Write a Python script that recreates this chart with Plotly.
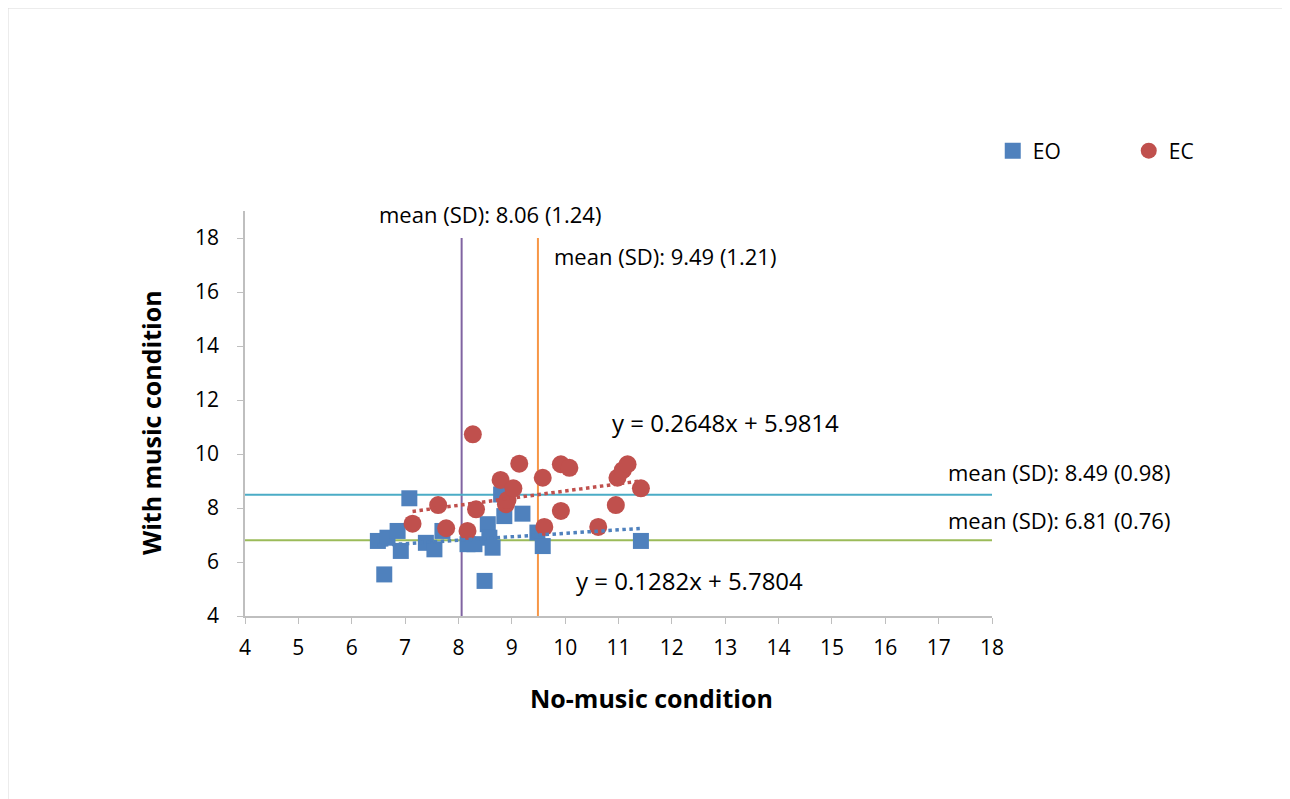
import plotly.graph_objects as go

# ---- data ----
eo_x = [6.49, 6.67, 6.86, 6.92, 6.61, 7.08, 7.39, 7.55, 7.70, 8.17, 8.30,
        8.55, 8.58, 8.64, 8.49, 8.86, 8.80, 9.20, 9.48, 9.58, 11.42]
eo_y = [6.78, 6.90, 7.15, 6.41, 5.54, 8.36, 6.71, 6.47, 7.15, 6.66, 6.66,
        7.40, 6.90, 6.53, 5.30, 7.70, 8.50, 7.79, 7.09, 6.59, 6.78]

ec_x = [7.14, 7.62, 7.77, 8.17, 8.27, 8.33, 8.79, 8.89, 8.92, 9.03, 9.14,
        9.58, 9.61, 9.92, 10.08, 9.92, 10.62, 10.95, 10.98, 11.08, 11.17, 11.42]
ec_y = [7.42, 8.11, 7.25, 7.15, 10.73, 7.95, 9.04, 8.14, 8.30, 8.73, 9.64,
        9.12, 7.30, 9.62, 9.49, 7.89, 7.30, 8.11, 9.12, 9.40, 9.62, 8.73]

# trendline equations (slope, intercept)
eo_trend = (0.1282, 5.7804)
ec_trend = (0.2648, 5.9814)

# means and SDs
eo_mean_x, eo_sd_x = 8.06, 1.24
ec_mean_x, ec_sd_x = 9.49, 1.21
ec_mean_y, ec_sd_y = 8.49, 0.98
eo_mean_y, eo_sd_y = 6.81, 0.76

x_range = [4, 18]
y_range = [4, 19]
x_ticks = list(range(4, 19))
y_ticks = list(range(4, 19, 2))

x_title = "No-music condition"
y_title = "With music condition"

FONT = "Open Sans"
BLUE = "#4F81BD"
RED = "#C0504D"
PURPLE = "#8064A2"
ORANGE = "#F79646"
CYAN = "#4BACC6"
GREEN = "#9BBB59"
AXC = "#BFBFBF"

fig = go.Figure()

# mean lines
fig.add_trace(go.Scatter(x=[eo_mean_x, eo_mean_x], y=[4, 18], mode="lines",
                         line=dict(color=PURPLE, width=2), showlegend=False, hoverinfo="skip"))
fig.add_trace(go.Scatter(x=[ec_mean_x, ec_mean_x], y=[4, 18], mode="lines",
                         line=dict(color=ORANGE, width=2), showlegend=False, hoverinfo="skip"))
fig.add_trace(go.Scatter(x=x_range, y=[ec_mean_y, ec_mean_y], mode="lines",
                         line=dict(color=CYAN, width=2), showlegend=False, hoverinfo="skip"))
fig.add_trace(go.Scatter(x=x_range, y=[eo_mean_y, eo_mean_y], mode="lines",
                         line=dict(color=GREEN, width=2), showlegend=False, hoverinfo="skip"))

# scatter
fig.add_trace(go.Scatter(x=eo_x, y=eo_y, mode="markers", name="EO",
                         marker=dict(symbol="square", size=16, color=BLUE)))
fig.add_trace(go.Scatter(x=ec_x, y=ec_y, mode="markers", name="EC",
                         marker=dict(symbol="circle", size=18, color=RED)))

# trendlines
for xs, (m, b), col in [(eo_x, eo_trend, BLUE), (ec_x, ec_trend, RED)]:
    x0, x1 = min(xs), max(xs)
    fig.add_trace(go.Scatter(x=[x0, x1], y=[m * x0 + b, m * x1 + b], mode="lines",
                             line=dict(color=col, width=3.5, dash="dot"),
                             showlegend=False, hoverinfo="skip"))

def ann(text, x, y, xanchor, size=22):
    fig.add_annotation(text=text, x=x, y=y, xref="x", yref="y", showarrow=False,
                       xanchor=xanchor, yanchor="middle",
                       font=dict(family=FONT, size=size, color="#000000"))

ann(f"mean (SD): {eo_mean_x:.2f} ({eo_sd_x:.2f})", 8.59, 18.89, "center")
ann(f"mean (SD): {ec_mean_x:.2f} ({ec_sd_x:.2f})", 9.75, 17.33, "left")
ann(f"mean (SD): {ec_mean_y:.2f} ({ec_sd_y:.2f})", 17.13, 9.33, "left")
ann(f"mean (SD): {eo_mean_y:.2f} ({eo_sd_y:.2f})", 17.13, 7.56, "left")
ann(f"y = {ec_trend[0]:.4f}x + {ec_trend[1]:.4f}", 10.84, 11.15, "left", size=24)
ann(f"y = {eo_trend[0]:.4f}x + {eo_trend[1]:.4f}", 10.16, 5.33, "left", size=24)

# axis titles
fig.add_annotation(text=f"<b>{x_title}</b>", x=(650 - 244) / 747, y=(615 - 697) / 405,
                   xref="paper", yref="paper", showarrow=False,
                   xanchor="center", yanchor="middle",
                   font=dict(family=FONT, size=25, color="#000000"))
fig.add_annotation(text=f"<b>{y_title}</b>", x=(150 - 244) / 747, y=(615 - 422) / 405,
                   xref="paper", yref="paper", showarrow=False, textangle=-90,
                   xanchor="center", yanchor="middle",
                   font=dict(family=FONT, size=25, color="#000000"))

# outer chart border
fig.add_shape(type="rect", xref="paper", yref="paper",
              x0=(7 - 244) / 747, x1=(1283 - 244) / 747,
              y0=(615 - 815) / 405, y1=(615 - 7) / 405,
              line=dict(color="#D9D9D9", width=1), layer="below")

fig.update_layout(
    width=1290, height=799,
    margin=dict(l=237, r=306, t=203, b=191, autoexpand=False),
    paper_bgcolor="white", plot_bgcolor="white",
    font=dict(family=FONT, size=21, color="#000000"),
    showlegend=True,
    legend=dict(orientation="h", x=1.001, y=1.148, xanchor="left", yanchor="middle",
                font=dict(family=FONT, size=21), itemwidth=30,
                entrywidth=91, entrywidthmode="pixels", bgcolor="rgba(0,0,0,0)"),
    xaxis=dict(range=x_range, tickmode="array", tickvals=x_ticks,
               showgrid=False, zeroline=False, showline=True, linecolor=AXC, linewidth=1.5,
               ticks="outside", ticklen=6, tickcolor=AXC, tickfont=dict(size=21),
               ticklabelstandoff=6),
    yaxis=dict(range=y_range, tickmode="array", tickvals=y_ticks,
               showgrid=False, zeroline=False, showline=True, linecolor=AXC, linewidth=1.5,
               ticks="outside", ticklen=6, tickcolor=AXC, tickfont=dict(size=21),
               ticklabelstandoff=14),
)

fig.write_html("out.html")
